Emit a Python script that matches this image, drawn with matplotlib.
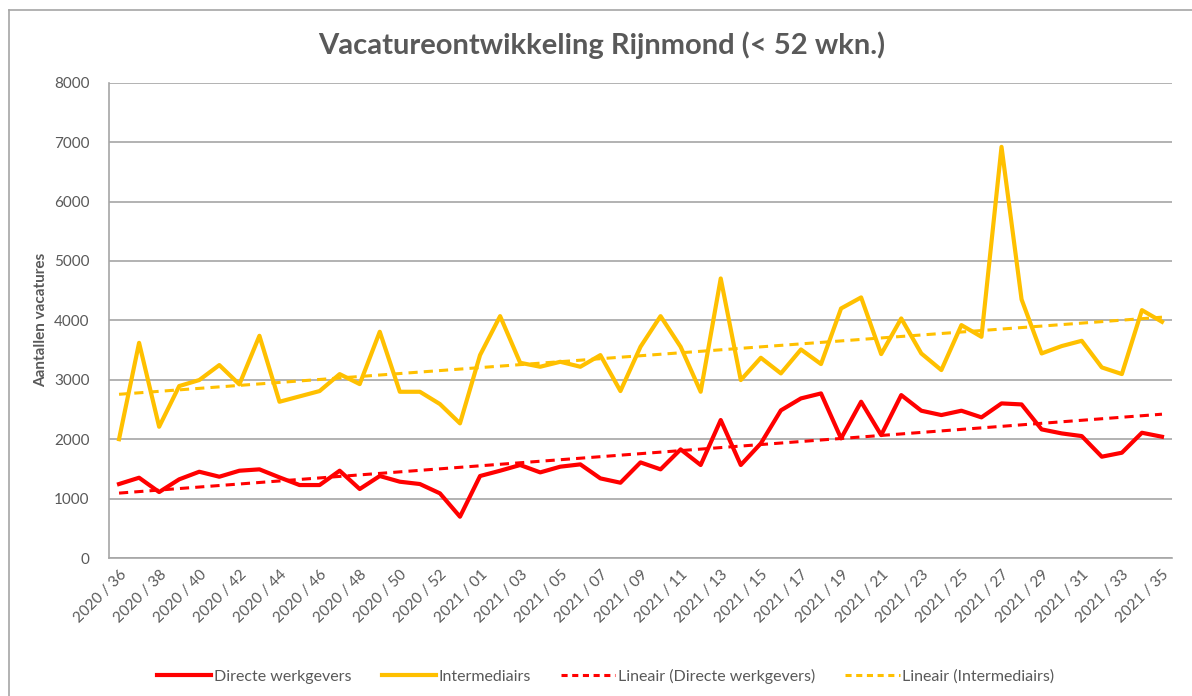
import numpy as np
import matplotlib
matplotlib.use("Agg")
import matplotlib.pyplot as plt
from matplotlib.lines import Line2D

plt.rcParams['font.family'] = ['Lato', 'DejaVu Sans']

weeks_2020 = [f"2020 / {w}" for w in range(36, 54)]
weeks_2021 = [f"2021 / {w:02d}" for w in range(1, 36)]
weeks = weeks_2020 + weeks_2021

directe = [1245, 1351, 1110, 1324, 1452, 1368, 1469, 1492, 1357, 1228,
           1228, 1469, 1161, 1380, 1284, 1245, 1088, 695, 1380, 1469,
           1565, 1441, 1537, 1576, 1340, 1267, 1609, 1492, 1828, 1565,
           2322, 1565, 1929, 2485, 2686, 2770, 2013, 2630, 2069, 2742,
           2479, 2406, 2479, 2367, 2602, 2585, 2165, 2097, 2052, 1705,
           1772, 2108, 2041]
intermediairs = [2000, 3622, 2209, 2894, 2995, 3247, 2922, 3740, 2630, 2720,
                 2810, 3095, 2927, 3808, 2798, 2798, 2591, 2266, 3415, 4071,
                 3286, 3219, 3303, 3219, 3415, 2810, 3555, 4071, 3555, 2798,
                 4705, 2995, 3370, 3107, 3510, 3264, 4200, 4386, 3432, 4032,
                 3443, 3163, 3920, 3723, 6920, 4352, 3443, 3567, 3656, 3208,
                 3096, 4172, 3976]

RED = '#FF0000'
YEL = '#FFC000'
GRAY = '#595959'

fig = plt.figure(figsize=(11.92, 6.96), dpi=100)
ax = fig.add_axes([109/1192, 1-558/696, (1172-109)/1192, (558-82.7)/696])

x = np.arange(len(weeks))
ax.plot(x, directe, color=RED, lw=3, solid_joinstyle='round', zorder=4)
ax.plot(x, intermediairs, color=YEL, lw=3, solid_joinstyle='round', zorder=4)

c1 = np.polyfit(x, directe, 1)
c2 = np.polyfit(x, intermediairs, 1)
ax.plot(x, np.polyval(c1, x), color=RED, lw=2.2, ls=(0, (3, 2)), zorder=3)
ax.plot(x, np.polyval(c2, x), color=YEL, lw=2.2, ls=(0, (3, 2)), zorder=3)

ax.set_xlim(-0.5, len(weeks) - 0.5)
ax.set_ylim(0, 8000)
ax.set_yticks(range(0, 8001, 1000))
ax.set_xticks(x[::2])
ax.set_xticklabels(weeks[::2], rotation=45, ha='right', rotation_mode='anchor',
                   fontsize=11, color=GRAY)
ax.tick_params(axis='y', labelsize=11, labelcolor=GRAY, length=0, pad=14)
ax.tick_params(axis='x', length=0, pad=7)
ax.grid(axis='y', color='#A6A6A6', lw=1.2)
ax.set_axisbelow(True)
for s in ['top', 'right']:
    ax.spines[s].set_visible(False)
for s in ['left', 'bottom']:
    ax.spines[s].set_color('#A6A6A6')
    ax.spines[s].set_linewidth(1.2)

ax.set_ylabel('Aantallen vacatures', fontsize=11, fontweight='bold', color=GRAY, labelpad=4)

fig.text(0.505, 1-45/696, 'Vacatureontwikkeling Rijnmond (< 52 wkn.)', ha='center', va='center',
         fontsize=21, fontweight='bold', color=GRAY)

handles = [Line2D([], [], color=RED, lw=3),
           Line2D([], [], color=YEL, lw=3),
           Line2D([], [], color=RED, lw=2.2, ls=(0, (2, 1.5))),
           Line2D([], [], color=YEL, lw=2.2, ls=(0, (2, 1.5)))]
labels = ['Directe werkgevers', 'Intermediairs', 'Lineair (Directe werkgevers)', 'Lineair (Intermediairs)']
leg = fig.legend(handles, labels, loc='center', bbox_to_anchor=(0.508, 1-676/696), ncol=4,
                 frameon=False, fontsize=11.5, handlelength=3.4, handletextpad=0.15,
                 columnspacing=1.9)
for t in leg.get_texts():
    t.set_color(GRAY)

# outer chart frame
fig.add_artist(Line2D([9/1192, 9/1192], [0, 1-10/696], color='#A6A6A6', lw=1.2, transform=fig.transFigure))
fig.add_artist(Line2D([9/1192, 1], [1-10/696, 1-10/696], color='#A6A6A6', lw=1.2, transform=fig.transFigure))

fig.savefig('out.png', dpi=100, facecolor='white')
